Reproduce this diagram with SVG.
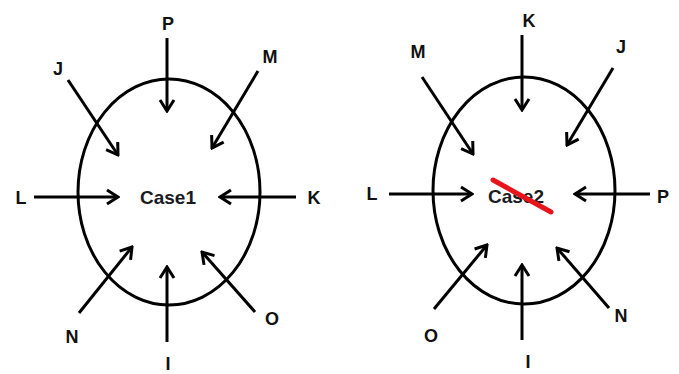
<svg xmlns="http://www.w3.org/2000/svg" width="679" height="374" viewBox="0 0 679 374">
<style>
.lbl{font-family:"Liberation Sans",Arial,sans-serif;font-weight:bold;font-size:18px;fill:#111;text-anchor:middle}
.case{font-family:"Liberation Sans",Arial,sans-serif;font-weight:bold;font-size:19px;fill:#1a1a22;text-anchor:middle}
.ring{fill:none;stroke:#000;stroke-width:3}
.arr{stroke:#000;stroke-width:3;fill:none;marker-end:url(#ah)}
</style>
<defs>
<marker id="ah" markerUnits="userSpaceOnUse" viewBox="-14 -10 16 20" refX="0" refY="0" markerWidth="16" markerHeight="20" orient="auto">
<path d="M-11,-7 L0,0 L-11,7" fill="none" stroke="#000" stroke-width="3" stroke-linejoin="miter"/>
</marker>
</defs>
<rect width="679" height="374" fill="#fff"/>
<g id="case1">
<ellipse class="ring" cx="169" cy="192" rx="91" ry="113"/>
<text class="case" x="168" y="204">Case1</text>
</g>
<g id="case2">
<ellipse class="ring" cx="524" cy="190.5" rx="91" ry="113.5"/>
<text class="case" x="516" y="203">Case2</text>
<line x1="493" y1="180" x2="551" y2="212" stroke="#e8141c" stroke-width="5" stroke-linecap="round"/>
</g>
<g id="labels1">
<g id="c1-P"><text class="lbl" x="168" y="30">P</text></g>
<g id="c1-J"><text class="lbl" x="58" y="75">J</text></g>
<g id="c1-M"><text class="lbl" x="270" y="63">M</text></g>
<g id="c1-L"><text class="lbl" x="21" y="204">L</text></g>
<g id="c1-K"><text class="lbl" x="314" y="204">K</text></g>
<g id="c1-N"><text class="lbl" x="72" y="343">N</text></g>
<g id="c1-I"><text class="lbl" x="168" y="370">I</text></g>
<g id="c1-O"><text class="lbl" x="272" y="325">O</text></g>
</g>
<g id="labels2">
<g id="c2-K"><text class="lbl" x="529" y="27">K</text></g>
<g id="c2-M"><text class="lbl" x="418" y="58">M</text></g>
<g id="c2-J"><text class="lbl" x="621" y="53">J</text></g>
<g id="c2-L"><text class="lbl" x="372" y="200">L</text></g>
<g id="c2-P"><text class="lbl" x="663" y="203">P</text></g>
<g id="c2-O"><text class="lbl" x="431" y="342">O</text></g>
<g id="c2-I"><text class="lbl" x="528" y="368">I</text></g>
<g id="c2-N"><text class="lbl" x="621" y="322">N</text></g>
</g>
<g id="connectors">
<line class="arr" x1="167" y1="38" x2="167" y2="111"/>
<line class="arr" x1="68" y1="80" x2="118" y2="155"/>
<line class="arr" x1="258" y1="71" x2="212" y2="148"/>
<line class="arr" x1="34" y1="197" x2="118" y2="197"/>
<line class="arr" x1="296" y1="197" x2="220" y2="197"/>
<line class="arr" x1="79" y1="313" x2="132" y2="247"/>
<line class="arr" x1="167" y1="342" x2="167" y2="267"/>
<line class="arr" x1="255" y1="312" x2="202" y2="252"/>
<line class="arr" x1="522" y1="35" x2="522" y2="110"/>
<line class="arr" x1="422" y1="77" x2="473" y2="154"/>
<line class="arr" x1="613" y1="68" x2="567" y2="145"/>
<line class="arr" x1="389" y1="194" x2="472" y2="194"/>
<line class="arr" x1="650" y1="194" x2="575" y2="194"/>
<line class="arr" x1="434" y1="309" x2="487" y2="245"/>
<line class="arr" x1="522" y1="340" x2="522" y2="265"/>
<line class="arr" x1="609" y1="308" x2="557" y2="248"/>
</g>
</svg>
